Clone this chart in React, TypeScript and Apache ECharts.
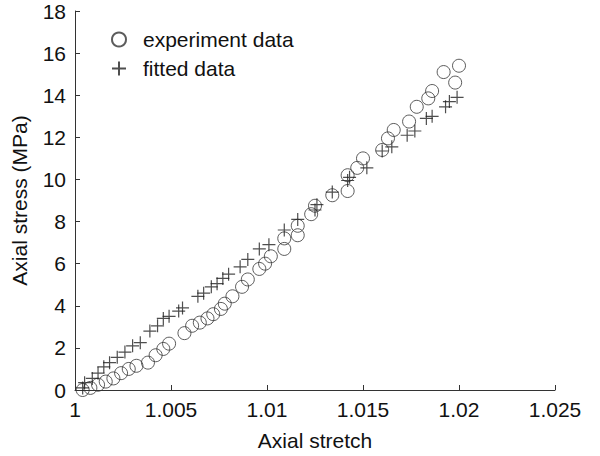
import React, { useEffect, useRef } from "react";
import * as echarts from "echarts";

const experimentX = [
  1.0004, 1.0008, 1.0012, 1.0016, 1.002, 1.0024, 1.0028, 1.0032, 1.0038, 1.0042,
  1.0046, 1.0049, 1.0057, 1.0061, 1.0065, 1.0069, 1.0072, 1.0076, 1.0078, 1.0082,
  1.0087, 1.009, 1.0096, 1.0099, 1.0102, 1.0109, 1.0109, 1.0116, 1.0116, 1.0123,
  1.0125, 1.0134, 1.0142, 1.0142, 1.0147, 1.015, 1.016, 1.0163, 1.0166, 1.0174,
  1.0178, 1.0184, 1.0186, 1.0192, 1.0198, 1.02,
];
const experimentY = [
  0.0, 0.1, 0.25, 0.4, 0.55, 0.8, 1.0, 1.15, 1.3, 1.65,
  1.95, 2.2, 2.7, 3.05, 3.2, 3.4, 3.6, 3.85, 4.1, 4.45,
  4.9, 5.25, 5.75, 6.0, 6.35, 6.7, 7.2, 7.35, 7.8, 8.35,
  8.75, 9.25, 9.45, 10.2, 10.55, 11.0, 11.4, 11.95, 12.35, 12.75,
  13.45, 13.85, 14.2, 15.1, 14.6, 15.4,
];

const fittedX = [
  1.0004, 1.0005, 1.0009, 1.0012, 1.0015, 1.0018, 1.0022, 1.0026, 1.003, 1.0034,
  1.0039, 1.0043, 1.0046, 1.0049, 1.0054, 1.0056, 1.0064, 1.0067, 1.0071, 1.0074,
  1.0077, 1.008, 1.0086, 1.009, 1.0096, 1.0101, 1.0109, 1.0116, 1.0125, 1.0126,
  1.0134, 1.0142, 1.0143, 1.0152, 1.016, 1.0165, 1.0173, 1.0177, 1.0183, 1.0186,
  1.0193, 1.0195, 1.0199,
];
const fittedY = [
  0.1, 0.35, 0.55, 0.8, 1.1, 1.3, 1.55, 1.8, 2.1, 2.25,
  2.8, 3.05, 3.4, 3.5, 3.75, 3.9, 4.45, 4.6, 4.9, 5.05,
  5.3, 5.5, 5.85, 6.2, 6.7, 6.9, 7.6, 8.1, 8.55, 8.8,
  9.4, 9.95, 10.1, 10.55, 11.35, 11.55, 12.1, 12.3, 12.9, 13.0,
  13.45, 13.7, 13.9,
];

const seriesNames = ["experiment data", "fitted data"];
const PLUS = "path://M0,6H12M6,0V12";
const FONT = "Liberation Sans, Arial, sans-serif";

export default function App() {
  const ref = useRef<HTMLDivElement>(null);
  useEffect(() => {
    if (!ref.current) return;
    const chart = echarts.init(ref.current, undefined, { renderer: "svg" });
    const axisCommon = {
      axisLine: { show: true, lineStyle: { color: "#333", width: 1 } },
      axisTick: { show: true, inside: true, length: 5, lineStyle: { color: "#333" } },
      splitLine: { show: false },
      axisLabel: { color: "#111", fontSize: 21, fontFamily: FONT, margin: 9 },
      nameLocation: "middle" as const,
      nameTextStyle: { color: "#111", fontSize: 21, fontFamily: FONT },
    };
    chart.setOption({
      animation: false,
      backgroundColor: "#fff",
      grid: { left: 75, right: 45, top: 11, bottom: 61, containLabel: false },
      legend: {
        orient: "vertical",
        left: 106,
        top: 24,
        itemWidth: 14,
        itemHeight: 14,
        itemGap: 8,
        textStyle: { color: "#111", fontSize: 21, fontFamily: FONT, padding: [0, 0, 0, 12] },
        data: [
          { name: seriesNames[0], icon: "circle" },
          { name: seriesNames[1], icon: PLUS },
        ],
      },
      xAxis: {
        ...axisCommon,
        type: "value",
        min: 1,
        max: 1.025,
        interval: 0.005,
        name: "Axial stretch",
        nameGap: 40,
        axisLabel: {
          ...axisCommon.axisLabel,
          formatter: (v: number) => String(parseFloat(v.toFixed(3))),
        },
      },
      yAxis: {
        ...axisCommon,
        type: "value",
        min: 0,
        max: 18,
        interval: 2,
        name: "Axial stress (MPa)",
        nameGap: 45,
        nameRotate: 90,
      },
      series: [
        {
          name: seriesNames[0],
          type: "scatter",
          symbol: "circle",
          symbolSize: 13,
          itemStyle: { color: "transparent", borderColor: "#333", borderWidth: 1 },
          data: experimentX.map((x, i) => [x, experimentY[i]]),
        },
        {
          name: seriesNames[1],
          type: "scatter",
          symbol: PLUS,
          symbolSize: 13,
          itemStyle: { color: "transparent", borderColor: "#222", borderWidth: 1.2 },
          data: fittedX.map((x, i) => [x, fittedY[i]]),
        },
      ],
    });
    return () => chart.dispose();
  }, []);
  return <div ref={ref} style={{ width: 600, height: 456 }} />;
}

const _style = document.createElement("style");
_style.textContent = "body{margin:0}";
document.head.appendChild(_style);
